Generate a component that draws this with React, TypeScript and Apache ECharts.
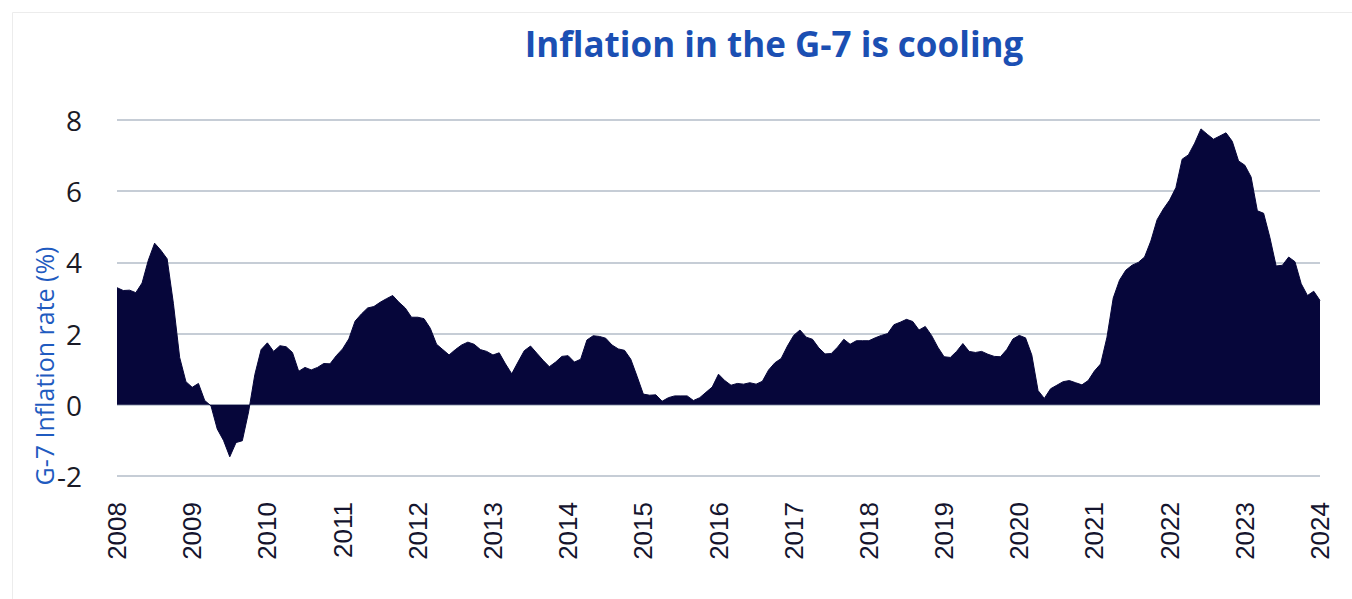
import React, { useEffect, useRef } from "react";
import * as echarts from "echarts";

// G-7 inflation rate (%), monthly, Jan of each year through Dec
const y2008 = [3.29, 3.21, 3.22, 3.15, 3.42, 4.06, 4.54, 4.34, 4.1, 2.85, 1.33, 0.65];
const y2009 = [0.49, 0.6, 0.12, -0.03, -0.68, -1.0, -1.46, -1.06, -1.01, -0.2, 0.85, 1.55];
const y2010 = [1.74, 1.5, 1.66, 1.63, 1.47, 0.94, 1.05, 0.98, 1.05, 1.16, 1.15, 1.38];
const y2011 = [1.57, 1.85, 2.35, 2.55, 2.72, 2.76, 2.88, 2.98, 3.07, 2.88, 2.72, 2.46];
const y2012 = [2.46, 2.42, 2.15, 1.7, 1.55, 1.4, 1.55, 1.68, 1.76, 1.7, 1.55, 1.5];
const y2013 = [1.4, 1.46, 1.15, 0.87, 1.2, 1.52, 1.65, 1.45, 1.25, 1.07, 1.2, 1.36];
const y2014 = [1.38, 1.2, 1.28, 1.82, 1.94, 1.92, 1.87, 1.68, 1.57, 1.53, 1.28, 0.8];
const y2015 = [0.3, 0.27, 0.28, 0.1, 0.2, 0.25, 0.25, 0.25, 0.12, 0.2, 0.35, 0.5];
const y2016 = [0.86, 0.68, 0.55, 0.6, 0.58, 0.62, 0.58, 0.66, 0.98, 1.18, 1.3, 1.65];
const y2017 = [1.95, 2.1, 1.9, 1.84, 1.6, 1.43, 1.44, 1.62, 1.84, 1.7, 1.8, 1.8];
const y2018 = [1.8, 1.88, 1.95, 2.0, 2.25, 2.32, 2.4, 2.34, 2.1, 2.2, 1.95, 1.62];
const y2019 = [1.35, 1.33, 1.5, 1.72, 1.5, 1.47, 1.5, 1.42, 1.36, 1.35, 1.55, 1.85];
const y2020 = [1.95, 1.88, 1.4, 0.4, 0.18, 0.45, 0.55, 0.65, 0.68, 0.62, 0.56, 0.68];
const y2021 = [0.95, 1.15, 1.9, 3.0, 3.5, 3.78, 3.92, 4.0, 4.15, 4.6, 5.2, 5.5];
const y2022 = [5.75, 6.1, 6.9, 7.02, 7.35, 7.75, 7.6, 7.46, 7.55, 7.64, 7.4, 6.85];
const y2023 = [6.73, 6.4, 5.45, 5.38, 4.7, 3.9, 3.92, 4.15, 4.02, 3.4, 3.07, 3.19];
const y2024 = [2.93];

const years = [
  2008, 2009, 2010, 2011, 2012, 2013, 2014, 2015, 2016, 2017, 2018, 2019, 2020, 2021, 2022, 2023, 2024,
];
const valuesByYear = [
  y2008, y2009, y2010, y2011, y2012, y2013, y2014, y2015, y2016, y2017, y2018, y2019, y2020, y2021, y2022, y2023, y2024,
];

const TITLE = "Inflation in the G-7 is cooling";
const Y_NAME = "G-7 Inflation rate (%)";

export default function App() {
  const ref = useRef<HTMLDivElement>(null);

  useEffect(() => {
    if (!ref.current) return;
    const chart = echarts.init(ref.current, undefined, { renderer: "svg" });

    const categories: string[] = [];
    const values: number[] = [];
    valuesByYear.forEach((arr, yi) => {
      arr.forEach((v, m) => {
        categories.push(`${years[yi]}-${String(m + 1).padStart(2, "0")}`);
        values.push(v);
      });
    });

    chart.setOption({
      animation: false,
      backgroundColor: "#ffffff",
      title: {
        text: TITLE,
        left: 769,
        textAlign: "center",
        top: 21,
        textStyle: {
          fontFamily: "Open Sans",
          fontWeight: "bold",
          fontSize: 35,
          color: "#1b4fb3",
        },
      },
      graphic: [
        {
          type: "rect",
          shape: { x: 12.5, y: 12.5, width: 1400, height: 700 },
          style: { fill: "none", stroke: "#ececec", lineWidth: 1 },
          silent: true,
        },
        {
          type: "text",
          x: 44,
          y: 366,
          rotation: Math.PI / 2,
          style: {
            text: Y_NAME,
            fontFamily: "Open Sans",
            fontSize: 25,
            fill: "#1f5bc0",
            textAlign: "center",
            textVerticalAlign: "middle",
          },
        },
      ],
      grid: { left: 117, right: 32, top: 120, bottom: 123 },
      xAxis: {
        type: "category",
        data: categories,
        boundaryGap: false,
        axisLine: { show: false },
        axisTick: { show: false },
        splitLine: { show: false },
        axisLabel: {
          interval: (idx: number) => idx % 12 === 0,
          formatter: (v: string) => v.slice(0, 4),
          rotate: 90,
          margin: 26,
          fontFamily: "Liberation Sans",
          fontSize: 26,
          color: "#14142e",
        },
      },
      yAxis: {
        type: "value",
        min: -2,
        max: 8,
        interval: 2,
        axisLine: { show: false },
        axisTick: { show: false },
        splitLine: { lineStyle: { color: "#c6cdd6", width: 2 } },
        axisLabel: {
          margin: 35,
          fontFamily: "Open Sans",
          fontSize: 28,
          color: "#1a1a26",
        },
      },
      series: [
        {
          type: "line",
          data: values,
          symbol: "none",
          lineStyle: { color: "#06063a", width: 1 },
          areaStyle: { color: "#06063a", opacity: 1 },
        },
      ],
    });

    return () => chart.dispose();
  }, []);

  return (
    <div
      ref={ref}
      style={{ position: "fixed", left: 0, top: 0, width: 1352, height: 599 }}
    />
  );
}
